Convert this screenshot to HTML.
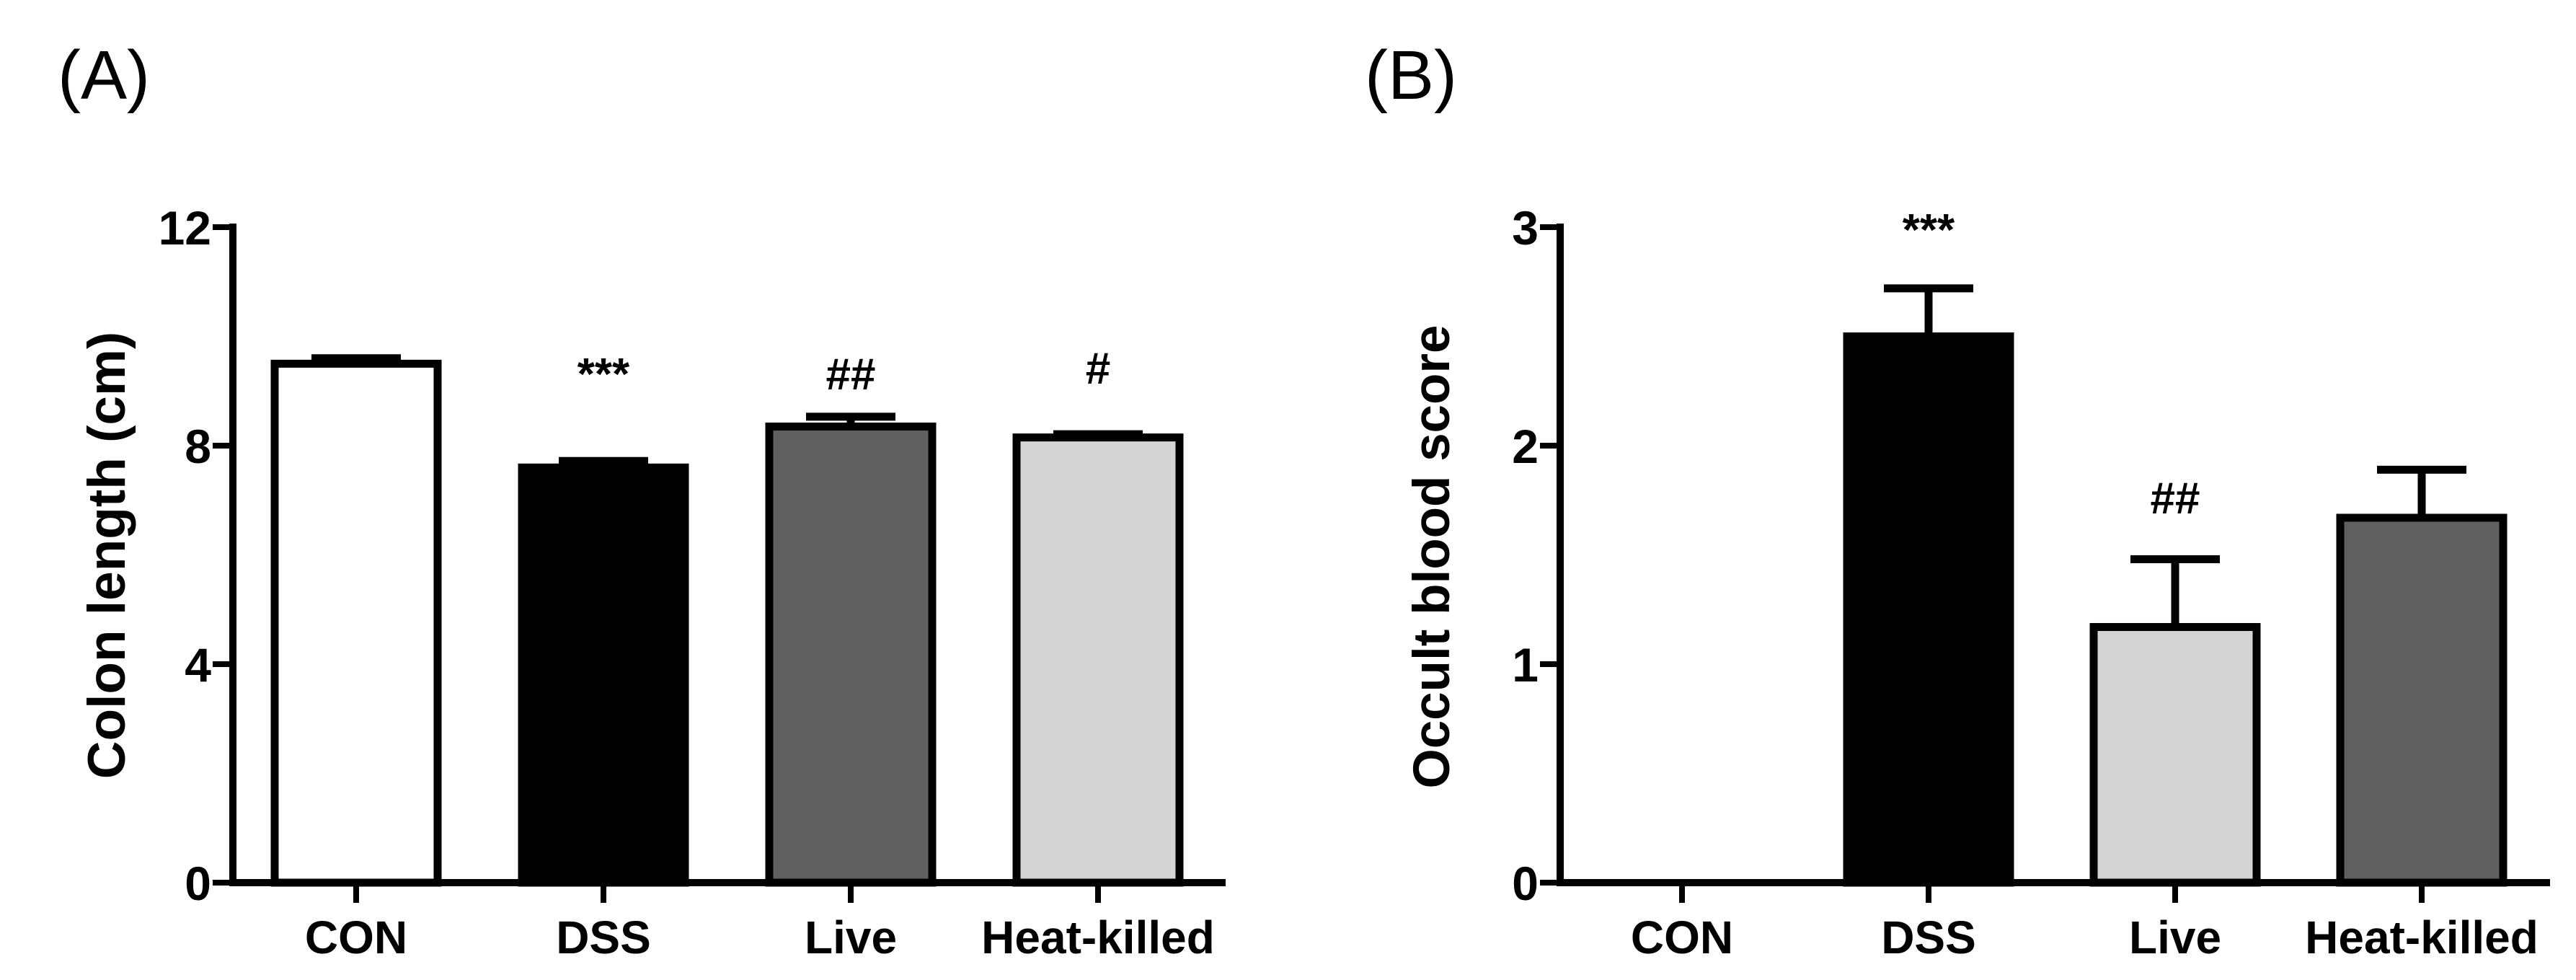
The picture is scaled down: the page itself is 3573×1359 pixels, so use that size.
<!DOCTYPE html>
<html><head><meta charset="utf-8"><style>
html,body{margin:0;padding:0;background:#fff;}
svg{display:block;font-family:"Liberation Sans",Arial,sans-serif;}
</style></head><body>
<svg id="fig" width="3573" height="1359" viewBox="0 0 3573 1359" xmlns="http://www.w3.org/2000/svg">
<text x="80" y="137" font-size="96">(A)</text>
<text x="1893" y="137" font-size="96">(B)</text>
<g id="chartA"></g>
<g id="chartB"></g>
</svg>
<script>
const categories = ["CON","DSS","Live","Heat-killed"];
const colonMeans = [9.5, 7.6, 8.35, 8.15];
const colonErr = [0.1, 0.12, 0.18, 0.06];
const colonMarks = ["", "***", "##", "#"];
const colonTicks = [0, 4, 8, 12];
const bloodMeans = [0, 2.5, 1.17, 1.67];
const bloodErr = [0, 0.22, 0.31, 0.22];
const bloodMarks = ["", "***", "##", ""];
const bloodTicks = [0, 1, 2, 3];
const colonFills = ["#ffffff","#000000","#606060","#d4d4d4"];
const bloodFills = ["#ffffff","#000000","#d4d4d4","#606060"];

const NS = "http://www.w3.org/2000/svg";
function mk(parent, tag, attrs){const e=document.createElementNS(NS,tag);for(const k in attrs)e.setAttribute(k,attrs[k]);parent.appendChild(e);return e;}

function draw(g, cfg){
  const y0=1224, yTop=315;
  const yMax=cfg.ticks[cfg.ticks.length-1];
  const yScale=v=>y0-(v/yMax)*(y0-yTop);
  const xScale=i=>cfg.x0+cfg.step*i;
  const bw=226;
  cfg.means.forEach((m,i)=>{
    const cx=xScale(i);
    if(cfg.errs[i]>0){
      const ln=mk(g,"line",{x1:cx,x2:cx,y1:yScale(m),y2:yScale(m+cfg.errs[i]),stroke:"#000","stroke-width":11});
      
      
      const cap=mk(g,"line",{x1:cx-62,x2:cx+62,y1:yScale(m+cfg.errs[i]),y2:yScale(m+cfg.errs[i]),stroke:"#000","stroke-width":11});
      
      
    }
    if(m>0){
      const r=mk(g,"rect",{x:cx-bw/2,y:yScale(m),width:bw,height:y0-yScale(m),fill:cfg.fills[i],stroke:"#000","stroke-width":11});
      
      
    }
    if(cfg.marks[i]){
      const t=mk(g,"text",{x:cx,y:cfg.markY[i],"font-size":62,"font-weight":"bold","text-anchor":"middle"});
      t.textContent=cfg.marks[i];
      
      
    }
    const tk=mk(g,"line",{x1:cx,x2:cx,y1:y0,y2:y0+28,stroke:"#000","stroke-width":8});
    
    
    const lb=mk(g,"text",{x:cx,y:1322,"font-size":64,"font-weight":"bold","text-anchor":"middle"});
    lb.textContent=categories[i];
    
    
  });
  const ya=mk(g,"line",{x1:cfg.ax,x2:cfg.ax,y1:yTop-5,y2:y0+5,stroke:"#000","stroke-width":10});
  
  
  const xa=mk(g,"line",{x1:cfg.ax-5,x2:cfg.axEnd,y1:y0,y2:y0,stroke:"#000","stroke-width":10});
  
  
  cfg.ticks.forEach(v=>{
    const t=mk(g,"line",{x1:cfg.ax-28,x2:cfg.ax,y1:yScale(v),y2:yScale(v),stroke:"#000","stroke-width":8});
    
    
    const l=mk(g,"text",{x:cfg.ax-30,y:yScale(v)+24,"font-size":66,"font-weight":"bold","text-anchor":"end"});
    l.textContent=v;
    
    
  });
  const tt=mk(g,"text",{x:0,y:0,"font-size":cfg.titleSize,"font-weight":"bold","text-anchor":"middle",transform:`translate(${cfg.titleX},${cfg.titleY}) rotate(-90)`});
  tt.textContent=cfg.title;
  
  
}
draw(document.getElementById("chartA"),{ax:323,axEnd:1700,x0:494,step:343,means:colonMeans,errs:colonErr,marks:colonMarks,markY:[0,540,540,532],fills:colonFills,ticks:colonTicks,title:"Colon length (cm)",titleX:173,titleY:770,titleSize:73});
draw(document.getElementById("chartB"),{ax:2164,axEnd:3537,x0:2333,step:342,means:bloodMeans,errs:bloodErr,marks:bloodMarks,markY:[0,340,712,0],fills:bloodFills,ticks:bloodTicks,title:"Occult blood score",titleX:2010,titleY:772,titleSize:71});
</script>
</body></html>
